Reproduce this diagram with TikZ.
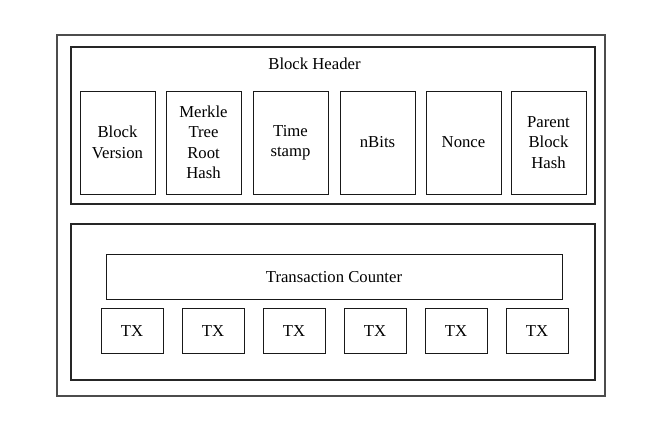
\documentclass[tikz,border=0pt]{standalone}
\usepackage{fontspec}
\setmainfont{Liberation Serif}
\usetikzlibrary{shadows}
\begin{document}
\begin{tikzpicture}[x=1pt,y=-1pt,
  font=\fontsize{16.7}{20.5}\selectfont,
  shadowed/.style={drop shadow={shadow xshift=1.2pt,shadow yshift=-1.2pt,fill=blue!40!gray!60,opacity=0.35}},
  container/.style={draw=black!85,line width=1.1pt,fill=white,shadowed,inner sep=0pt},
  field/.style={draw=black!90,line width=0.9pt,fill=white,shadowed,minimum width=75pt,minimum height=103pt,inner sep=0pt,align=center},
  txbox/.style={draw=black!90,line width=0.9pt,fill=white,shadowed,minimum width=62pt,minimum height=45pt,inner sep=0pt},
  counter/.style={draw=black!90,line width=0.9pt,fill=white,shadowed,minimum width=456pt,minimum height=45pt,inner sep=0pt}]
\useasboundingbox (0,0) rectangle (648,434);
\fill[white] (0,0) rectangle (648,434);
% outer block
\node[container,draw=black!70,minimum width=548pt,minimum height=361pt] (block) at (331,215.5) {};
% header
\node[container,minimum width=524pt,minimum height=157pt] (header) at (333,125.5) {};
\node (htitle) at (314.5,64) {Block Header};
\node[field] (ver) at (117.5,142.5) {Block\\Version};
\node[field] (merkle) at (203.5,142.5) {Merkle\\Tree\\Root\\Hash};
\node[field] (time) at (290.5,142.5) {Time\\stamp};
\node[field] (nbits) at (377.5,142.5) {nBits};
\node[field] (nonce) at (463.5,142.5) {Nonce};
\node[field] (parent) at (548.5,142.5) {Parent\\Block\\Hash};
% body
\node[container,minimum width=524pt,minimum height=156pt] (body) at (333,302) {};
\node[counter] (tc) at (334,276.7) {Transaction Counter};
\node[txbox] (tx1) at (132,330.7) {TX};
\node[txbox] (tx2) at (213,330.7) {TX};
\node[txbox] (tx3) at (294,330.7) {TX};
\node[txbox] (tx4) at (375,330.7) {TX};
\node[txbox] (tx5) at (456,330.7) {TX};
\node[txbox] (tx6) at (537,330.7) {TX};
\end{tikzpicture}
\end{document}
